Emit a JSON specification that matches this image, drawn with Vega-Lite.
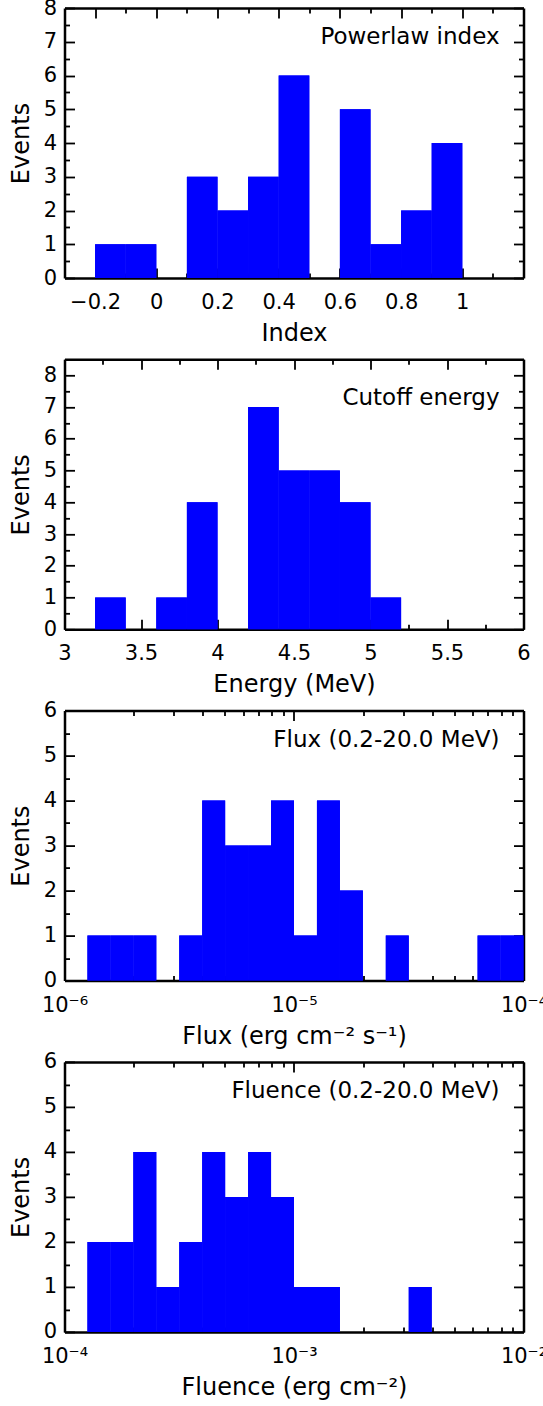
{
  "$schema": "https://vega.github.io/schema/vega-lite/v6.json",
  "autosize": {"type": "pad"},
  "padding": {"left": 9.5, "top": -3, "right": 0, "bottom": 0},
  "background": "white",
  "bounds": "flush",
  "spacing": 81.3,
  "datasets": {
    "idx": [
      {"lo": -0.3, "hi": -0.2, "n": 0}, {"lo": -0.2, "hi": -0.1, "n": 1}, {"lo": -0.1, "hi": 0.0, "n": 1},
      {"lo": 0.0, "hi": 0.1, "n": 0}, {"lo": 0.1, "hi": 0.2, "n": 3}, {"lo": 0.2, "hi": 0.3, "n": 2},
      {"lo": 0.3, "hi": 0.4, "n": 3}, {"lo": 0.4, "hi": 0.5, "n": 6}, {"lo": 0.5, "hi": 0.6, "n": 0},
      {"lo": 0.6, "hi": 0.7, "n": 5}, {"lo": 0.7, "hi": 0.8, "n": 1}, {"lo": 0.8, "hi": 0.9, "n": 2},
      {"lo": 0.9, "hi": 1.0, "n": 4}, {"lo": 1.0, "hi": 1.1, "n": 0}, {"lo": 1.1, "hi": 1.2, "n": 0}
    ],
    "cut": [
      {"lo": 3.0, "hi": 3.2, "n": 0}, {"lo": 3.2, "hi": 3.4, "n": 1}, {"lo": 3.4, "hi": 3.6, "n": 0},
      {"lo": 3.6, "hi": 3.8, "n": 1}, {"lo": 3.8, "hi": 4.0, "n": 4}, {"lo": 4.0, "hi": 4.2, "n": 0},
      {"lo": 4.2, "hi": 4.4, "n": 7}, {"lo": 4.4, "hi": 4.6, "n": 5}, {"lo": 4.6, "hi": 4.8, "n": 5},
      {"lo": 4.8, "hi": 5.0, "n": 4}, {"lo": 5.0, "hi": 5.2, "n": 1}, {"lo": 5.2, "hi": 5.4, "n": 0},
      {"lo": 5.4, "hi": 5.6, "n": 0}, {"lo": 5.6, "hi": 5.8, "n": 0}, {"lo": 5.8, "hi": 6.0, "n": 0}
    ],
    "flux": [
      {"lo": 1e-6, "hi": 1.2589e-6, "n": 0}, {"lo": 1.2589e-6, "hi": 1.5849e-6, "n": 1},
      {"lo": 1.5849e-6, "hi": 1.9953e-6, "n": 1}, {"lo": 1.9953e-6, "hi": 2.5119e-6, "n": 1},
      {"lo": 2.5119e-6, "hi": 3.1623e-6, "n": 0}, {"lo": 3.1623e-6, "hi": 3.9811e-6, "n": 1},
      {"lo": 3.9811e-6, "hi": 5.0119e-6, "n": 4}, {"lo": 5.0119e-6, "hi": 6.3096e-6, "n": 3},
      {"lo": 6.3096e-6, "hi": 7.9433e-6, "n": 3}, {"lo": 7.9433e-6, "hi": 1e-5, "n": 4},
      {"lo": 1e-5, "hi": 1.2589e-5, "n": 1}, {"lo": 1.2589e-5, "hi": 1.5849e-5, "n": 4},
      {"lo": 1.5849e-5, "hi": 1.9953e-5, "n": 2}, {"lo": 1.9953e-5, "hi": 2.5119e-5, "n": 0},
      {"lo": 2.5119e-5, "hi": 3.1623e-5, "n": 1}, {"lo": 3.1623e-5, "hi": 3.9811e-5, "n": 0},
      {"lo": 3.9811e-5, "hi": 5.0119e-5, "n": 0}, {"lo": 5.0119e-5, "hi": 6.3096e-5, "n": 0},
      {"lo": 6.3096e-5, "hi": 7.9433e-5, "n": 1}, {"lo": 7.9433e-5, "hi": 1e-4, "n": 1}
    ],
    "flu": [
      {"lo": 1e-4, "hi": 1.2589e-4, "n": 0}, {"lo": 1.2589e-4, "hi": 1.5849e-4, "n": 2},
      {"lo": 1.5849e-4, "hi": 1.9953e-4, "n": 2}, {"lo": 1.9953e-4, "hi": 2.5119e-4, "n": 4},
      {"lo": 2.5119e-4, "hi": 3.1623e-4, "n": 1}, {"lo": 3.1623e-4, "hi": 3.9811e-4, "n": 2},
      {"lo": 3.9811e-4, "hi": 5.0119e-4, "n": 4}, {"lo": 5.0119e-4, "hi": 6.3096e-4, "n": 3},
      {"lo": 6.3096e-4, "hi": 7.9433e-4, "n": 4}, {"lo": 7.9433e-4, "hi": 1e-3, "n": 3},
      {"lo": 1e-3, "hi": 1.2589e-3, "n": 1}, {"lo": 1.2589e-3, "hi": 1.5849e-3, "n": 1},
      {"lo": 1.5849e-3, "hi": 1.9953e-3, "n": 0}, {"lo": 1.9953e-3, "hi": 2.5119e-3, "n": 0},
      {"lo": 2.5119e-3, "hi": 3.1623e-3, "n": 0}, {"lo": 3.1623e-3, "hi": 3.9811e-3, "n": 1},
      {"lo": 3.9811e-3, "hi": 5.0119e-3, "n": 0}, {"lo": 5.0119e-3, "hi": 6.3096e-3, "n": 0},
      {"lo": 6.3096e-3, "hi": 7.9433e-3, "n": 0}, {"lo": 7.9433e-3, "hi": 1e-2, "n": 0}
    ]
  },
  "config": {
    "font": "DejaVu Sans",
    "view": {"stroke": null},
    "axis": {
      "grid": false, "domainColor": "black", "domainWidth": 2.5, "tickColor": "black", "tickWidth": 1.8,
      "labelFont": "DejaVu Sans", "labelFontSize": 21, "labelColor": "black",
      "titleFont": "DejaVu Sans", "titleFontSize": 24, "titleFontWeight": "normal", "titleColor": "black",
      "labelFlush": false, "labelOverlap": false, "labelBound": false, "zindex": 1
    },
    "axisBottom": {"labelPadding": 23.5, "titlePadding": 4},
    "axisLeft": {"labelPadding": 18, "titlePadding": 9.5},
    "title": {"font": "DejaVu Sans", "fontSize": 23, "fontWeight": "normal", "color": "black", "anchor": "end", "frame": "group", "orient": "top", "baseline": "alphabetic", "offset": -52, "dx": -24}
  },
  "vconcat": [
    {
      "width": 459, "height": 270,
      "data": {"name": "idx"},
      "title": {"text": "Powerlaw index"},
      "resolve": {"axis": {"x": "independent", "y": "independent"}},
      "layer": [
        {
          "mark": {"type": "rect", "color": "#0000ff"},
          "encoding": {
            "x": {"field": "lo", "type": "quantitative", "scale": {"domain": [-0.3, 1.2], "nice": false},
              "axis": {"orient": "bottom", "title": "Index",
                "values": [-0.2, -0.1, 0, 0.1, 0.2, 0.3, 0.4, 0.5, 0.6, 0.7, 0.8, 0.9, 1.0, 1.1],
                "tickSize": {"condition": {"test": "abs(datum.value*5 - round(datum.value*5)) < 0.01", "value": -10}, "value": -5},
                "labelExpr": "abs(datum.value*5 - round(datum.value*5)) < 0.01 ? format(datum.value, '~g') : ''"}},
            "x2": {"field": "hi"},
            "y": {"field": "n", "type": "quantitative", "scale": {"domain": [0, 8], "nice": false},
              "axis": {"orient": "left", "title": "Events",
                "values": [0, 0.5, 1, 1.5, 2, 2.5, 3, 3.5, 4, 4.5, 5, 5.5, 6, 6.5, 7, 7.5, 8],
                "tickSize": {"condition": {"test": "datum.value % 1 == 0", "value": -10}, "value": -5},
                "labelExpr": "datum.value % 1 == 0 ? format(datum.value, 'd') : ''"}},
            "y2": {"datum": 0}
          }
        },
        {
          "mark": {"type": "rect", "color": "#0000ff"},
          "encoding": {
            "x": {"field": "lo", "type": "quantitative", "scale": {"domain": [-0.3, 1.2], "nice": false},
              "axis": {"orient": "top", "title": null, "labels": false,
                "values": [-0.2, -0.1, 0, 0.1, 0.2, 0.3, 0.4, 0.5, 0.6, 0.7, 0.8, 0.9, 1.0, 1.1],
                "tickSize": {"condition": {"test": "abs(datum.value*5 - round(datum.value*5)) < 0.01", "value": -10}, "value": -5}}},
            "x2": {"field": "hi"},
            "y": {"field": "n", "type": "quantitative", "scale": {"domain": [0, 8], "nice": false},
              "axis": {"orient": "right", "title": null, "labels": false,
                "values": [0, 0.5, 1, 1.5, 2, 2.5, 3, 3.5, 4, 4.5, 5, 5.5, 6, 6.5, 7, 7.5, 8],
                "tickSize": {"condition": {"test": "datum.value % 1 == 0", "value": -10}, "value": -5}}},
            "y2": {"datum": 0}
          }
        }
      ]
    },
    {
      "width": 459, "height": 270,
      "data": {"name": "cut"},
      "title": {"text": "Cutoff energy"},
      "resolve": {"axis": {"x": "independent", "y": "independent"}},
      "layer": [
        {
          "mark": {"type": "rect", "color": "#0000ff"},
          "encoding": {
            "x": {"field": "lo", "type": "quantitative", "scale": {"domain": [3, 6], "nice": false, "zero": false},
              "axis": {"orient": "bottom", "title": "Energy (MeV)",
                "values": [3, 3.25, 3.5, 3.75, 4, 4.25, 4.5, 4.75, 5, 5.25, 5.5, 5.75, 6],
                "tickSize": {"condition": {"test": "abs(datum.value*2 - round(datum.value*2)) < 0.01", "value": -10}, "value": -5},
                "labelExpr": "abs(datum.value*2 - round(datum.value*2)) < 0.01 ? format(datum.value, '~g') : ''"}},
            "x2": {"field": "hi"},
            "y": {"field": "n", "type": "quantitative", "scale": {"domain": [0, 8.5], "nice": false},
              "axis": {"orient": "left", "title": "Events",
                "values": [0, 0.5, 1, 1.5, 2, 2.5, 3, 3.5, 4, 4.5, 5, 5.5, 6, 6.5, 7, 7.5, 8],
                "tickSize": {"condition": {"test": "datum.value % 1 == 0", "value": -10}, "value": -5},
                "labelExpr": "datum.value % 1 == 0 ? format(datum.value, 'd') : ''"}},
            "y2": {"datum": 0}
          }
        },
        {
          "mark": {"type": "rect", "color": "#0000ff"},
          "encoding": {
            "x": {"field": "lo", "type": "quantitative", "scale": {"domain": [3, 6], "nice": false, "zero": false},
              "axis": {"orient": "top", "title": null, "labels": false,
                "values": [3, 3.25, 3.5, 3.75, 4, 4.25, 4.5, 4.75, 5, 5.25, 5.5, 5.75, 6],
                "tickSize": {"condition": {"test": "abs(datum.value*2 - round(datum.value*2)) < 0.01", "value": -10}, "value": -5}}},
            "x2": {"field": "hi"},
            "y": {"field": "n", "type": "quantitative", "scale": {"domain": [0, 8.5], "nice": false},
              "axis": {"orient": "right", "title": null, "labels": false,
                "values": [0, 0.5, 1, 1.5, 2, 2.5, 3, 3.5, 4, 4.5, 5, 5.5, 6, 6.5, 7, 7.5, 8],
                "tickSize": {"condition": {"test": "datum.value % 1 == 0", "value": -10}, "value": -5}}},
            "y2": {"datum": 0}
          }
        }
      ]
    },
    {
      "width": 459, "height": 270,
      "data": {"name": "flux"},
      "title": {"text": "Flux (0.2-20.0 MeV)"},
      "resolve": {"axis": {"x": "independent", "y": "independent"}},
      "layer": [
        {
          "mark": {"type": "rect", "color": "#0000ff"},
          "encoding": {
            "x": {"field": "lo", "type": "quantitative", "scale": {"type": "log", "domain": [1e-6, 1e-4], "nice": false},
              "axis": {"orient": "bottom", "title": "Flux (erg cm⁻² s⁻¹)",
                "values": [1e-6, 2e-6, 3e-6, 4e-6, 5e-6, 6e-6, 7e-6, 8e-6, 9e-6, 1e-5, 2e-5, 3e-5, 4e-5, 5e-5, 6e-5, 7e-5, 8e-5, 9e-5, 1e-4],
                "tickSize": {"condition": {"test": "abs(log(datum.value)/LN10 - round(log(datum.value)/LN10)) < 0.001", "value": -10}, "value": -5},
                "labelExpr": "abs(log(datum.value)/LN10 - round(log(datum.value)/LN10)) < 0.001 ? (round(log(datum.value)/LN10) == -6 ? '10⁻⁶' : round(log(datum.value)/LN10) == -5 ? '10⁻⁵' : '10⁻⁴') : ''"}},
            "x2": {"field": "hi"},
            "y": {"field": "n", "type": "quantitative", "scale": {"domain": [0, 6], "nice": false},
              "axis": {"orient": "left", "title": "Events",
                "values": [0, 0.5, 1, 1.5, 2, 2.5, 3, 3.5, 4, 4.5, 5, 5.5, 6],
                "tickSize": {"condition": {"test": "datum.value % 1 == 0", "value": -10}, "value": -5},
                "labelExpr": "datum.value % 1 == 0 ? format(datum.value, 'd') : ''"}},
            "y2": {"datum": 0}
          }
        },
        {
          "mark": {"type": "rect", "color": "#0000ff"},
          "encoding": {
            "x": {"field": "lo", "type": "quantitative", "scale": {"type": "log", "domain": [1e-6, 1e-4], "nice": false},
              "axis": {"orient": "top", "title": null, "labels": false,
                "values": [1e-6, 2e-6, 3e-6, 4e-6, 5e-6, 6e-6, 7e-6, 8e-6, 9e-6, 1e-5, 2e-5, 3e-5, 4e-5, 5e-5, 6e-5, 7e-5, 8e-5, 9e-5, 1e-4],
                "tickSize": {"condition": {"test": "abs(log(datum.value)/LN10 - round(log(datum.value)/LN10)) < 0.001", "value": -10}, "value": -5}}},
            "x2": {"field": "hi"},
            "y": {"field": "n", "type": "quantitative", "scale": {"domain": [0, 6], "nice": false},
              "axis": {"orient": "right", "title": null, "labels": false,
                "values": [0, 0.5, 1, 1.5, 2, 2.5, 3, 3.5, 4, 4.5, 5, 5.5, 6],
                "tickSize": {"condition": {"test": "datum.value % 1 == 0", "value": -10}, "value": -5}}},
            "y2": {"datum": 0}
          }
        }
      ]
    },
    {
      "width": 459, "height": 270,
      "data": {"name": "flu"},
      "title": {"text": "Fluence (0.2-20.0 MeV)"},
      "resolve": {"axis": {"x": "independent", "y": "independent"}},
      "layer": [
        {
          "mark": {"type": "rect", "color": "#0000ff"},
          "encoding": {
            "x": {"field": "lo", "type": "quantitative", "scale": {"type": "log", "domain": [1e-4, 1e-2], "nice": false},
              "axis": {"orient": "bottom", "title": "Fluence (erg cm⁻²)",
                "values": [1e-4, 2e-4, 3e-4, 4e-4, 5e-4, 6e-4, 7e-4, 8e-4, 9e-4, 1e-3, 2e-3, 3e-3, 4e-3, 5e-3, 6e-3, 7e-3, 8e-3, 9e-3, 1e-2],
                "tickSize": {"condition": {"test": "abs(log(datum.value)/LN10 - round(log(datum.value)/LN10)) < 0.001", "value": -10}, "value": -5},
                "labelExpr": "abs(log(datum.value)/LN10 - round(log(datum.value)/LN10)) < 0.001 ? (round(log(datum.value)/LN10) == -4 ? '10⁻⁴' : round(log(datum.value)/LN10) == -3 ? '10⁻³' : '10⁻²') : ''"}},
            "x2": {"field": "hi"},
            "y": {"field": "n", "type": "quantitative", "scale": {"domain": [0, 6], "nice": false},
              "axis": {"orient": "left", "title": "Events",
                "values": [0, 0.5, 1, 1.5, 2, 2.5, 3, 3.5, 4, 4.5, 5, 5.5, 6],
                "tickSize": {"condition": {"test": "datum.value % 1 == 0", "value": -10}, "value": -5},
                "labelExpr": "datum.value % 1 == 0 ? format(datum.value, 'd') : ''"}},
            "y2": {"datum": 0}
          }
        },
        {
          "mark": {"type": "rect", "color": "#0000ff"},
          "encoding": {
            "x": {"field": "lo", "type": "quantitative", "scale": {"type": "log", "domain": [1e-4, 1e-2], "nice": false},
              "axis": {"orient": "top", "title": null, "labels": false,
                "values": [1e-4, 2e-4, 3e-4, 4e-4, 5e-4, 6e-4, 7e-4, 8e-4, 9e-4, 1e-3, 2e-3, 3e-3, 4e-3, 5e-3, 6e-3, 7e-3, 8e-3, 9e-3, 1e-2],
                "tickSize": {"condition": {"test": "abs(log(datum.value)/LN10 - round(log(datum.value)/LN10)) < 0.001", "value": -10}, "value": -5}}},
            "x2": {"field": "hi"},
            "y": {"field": "n", "type": "quantitative", "scale": {"domain": [0, 6], "nice": false},
              "axis": {"orient": "right", "title": null, "labels": false,
                "values": [0, 0.5, 1, 1.5, 2, 2.5, 3, 3.5, 4, 4.5, 5, 5.5, 6],
                "tickSize": {"condition": {"test": "datum.value % 1 == 0", "value": -10}, "value": -5}}},
            "y2": {"datum": 0}
          }
        }
      ]
    }
  ]
}
